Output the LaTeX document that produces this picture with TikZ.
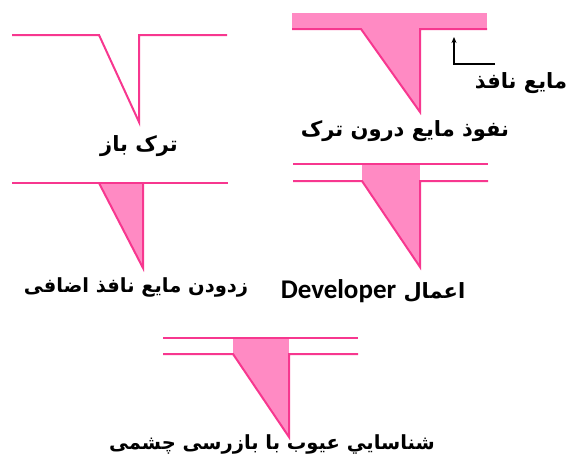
\documentclass[tikz,border=0pt]{standalone}
\usepackage{fontspec}
\usetikzlibrary{arrows.meta}
\setmainfont{DejaVu Sans}
\newfontfamily\fa[Script=Arabic]{DejaVu Sans}
\newfontfamily\lat{Carlito}
\TeXXeTstate=1
\definecolor{pinkline}{HTML}{F7378F}
\definecolor{pinkfill}{HTML}{FF8AC3}
\begin{document}
\begin{tikzpicture}[x=1pt,y=-1pt,
  pk/.style={draw=pinkline,line width=2pt},
  pf/.style={fill=pinkfill},
  lbl/.style={font=\fa\bfseries\fontsize{21}{24}\selectfont, inner sep=0pt},
  lbls/.style={font=\fa\bfseries\fontsize{19.5}{22}\selectfont, inner sep=0pt}]
\useasboundingbox (0,0) rectangle (566,459);
% panel 1: open crack
\draw[pk] (12,35) -- (99,35) -- (139,122) -- (139,35) -- (227,35);
\node[lbl] (t1) at (139,146) {\beginR ترک باز\endR};
% panel 2: penetrant
\fill[pf] (292,13) rectangle (487,29);
\fill[pf] (361,29) -- (420,112) -- (420,29) -- cycle;
\draw[pk] (292,29) -- (361,29) -- (420,112) -- (420,29) -- (487,29);
\node[lbl] (t2) at (405,131) {\beginR نفوذ مایع درون ترک\endR};
\node[lbl] (t2b) at (521,83) {\beginR مایع نافذ\endR};
\coordinate (a1) at (495,64);
\coordinate (a2) at (454,64);
\coordinate (a3) at (454,37);
\draw[line width=1.4pt,-{Stealth[length=6pt,width=5pt]}] (a1) -- (a2) -- (a3);
% panel 3: excess removal
\fill[pf] (99,183) -- (143,268) -- (143,183) -- cycle;
\draw[pk] (12,183) -- (228,183);
\draw[pk] (99,183) -- (143,268) -- (143,183);
\node[lbls] (t3) at (136,287) {\beginR زدودن مایع نافذ اضافی\endR};
% panel 4: developer
\fill[pf] (362,164) rectangle (420,181);
\fill[pf] (362,181) -- (420,267) -- (420,181) -- cycle;
\draw[pk] (293,164) -- (488,164);
\draw[pk] (293,181) -- (362,181) -- (420,267) -- (420,181) -- (488,181);
\node[lbl] (t4) at (373,291) {\beginR اعمال {\lat\bfseries\fontsize{27}{30}\selectfont\beginL Developer\endL}\endR};
% panel 5: inspection
\fill[pf] (233,338) rectangle (289,354);
\fill[pf] (233,354) -- (289,437) -- (289,354) -- cycle;
\draw[pk] (163,338) -- (358,338);
\draw[pk] (163,354) -- (233,354) -- (289,437) -- (289,354) -- (358,354);
\node[lbls] (t5) at (272,444) {\beginR شناسايي عیوب با بازرسی چشمی\endR};
\end{tikzpicture}
\end{document}
